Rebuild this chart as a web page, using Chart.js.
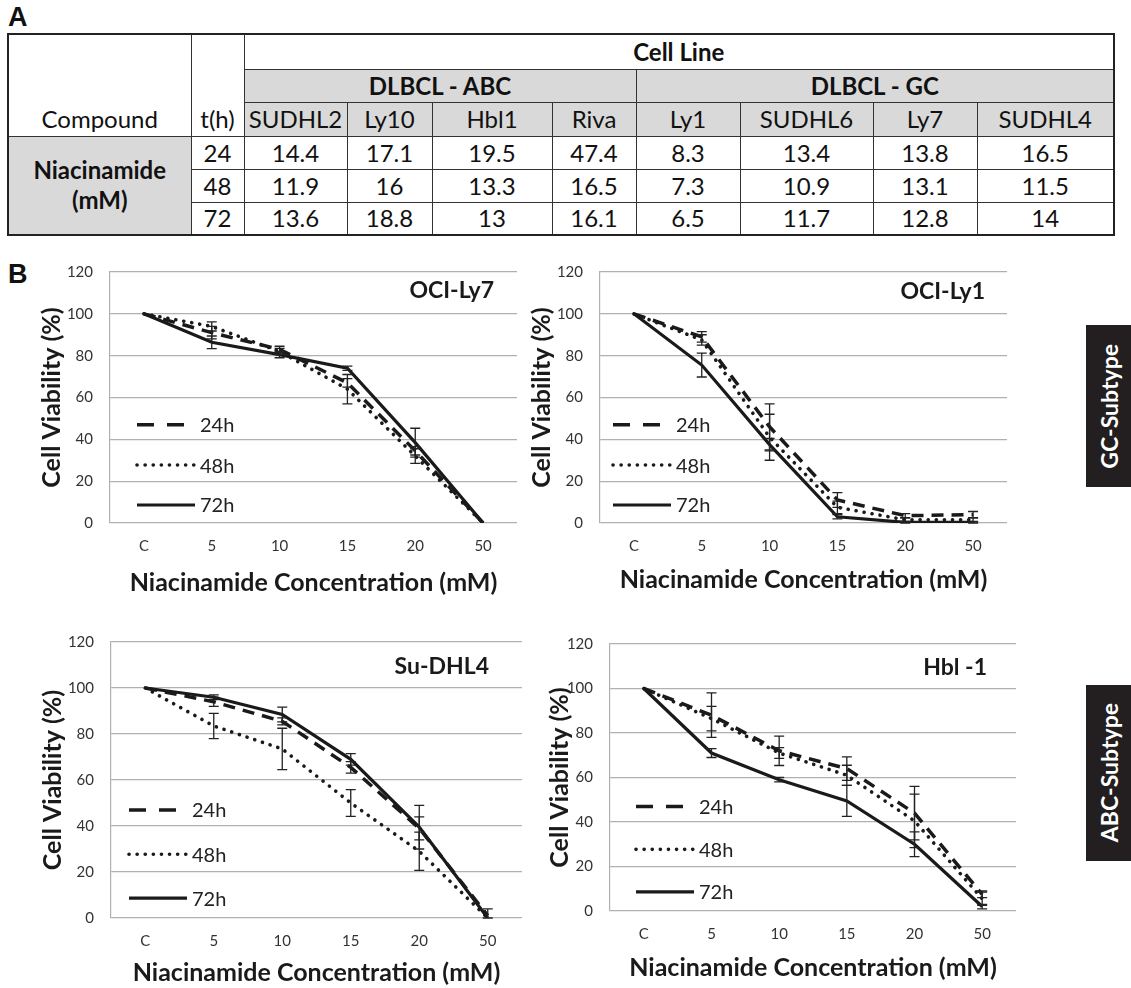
<!DOCTYPE html>
<html>
<head>
<meta charset="utf-8">
<script src="https://cdn.jsdelivr.net/npm/chart.js@4.4.1/dist/chart.umd.min.js"></script>
<style>
  html, body { margin: 0; padding: 0; background: #fff; }
  body { width: 1131px; height: 988px; position: relative; overflow: hidden; font-family: Lato, sans-serif; color: #111; }
  .letter { position: absolute; left: 8px; font: bold 27px "Liberation Sans", Arial, sans-serif; line-height: 1; }
  #ic50 { position: absolute; left: 7px; top: 33px; width: 1106px; border-collapse: collapse; table-layout: fixed; border: 2px solid #222; }
  #ic50 td { border: 1.5px solid #333; font-size: 24px; text-align: center; padding: 0; line-height: 1; }
  #ic50 .gray { background: #d9d9d9; }
  #ic50 .bold { font-weight: bold; }
  #ic50 .bottom { vertical-align: bottom; padding-bottom: 5px; }
  .panel { position: absolute; }
  .side { position: absolute; left: 1086px; width: 45px; background: #231f20; color: #fff; font: bold 23px Lato, sans-serif; display: flex; align-items: center; justify-content: center; }
  .side span { writing-mode: vertical-rl; transform: rotate(180deg); }
</style>
</head>
<body>
<div class="letter" style="top:4px">A</div>
<div class="letter" style="top:261px">B</div>
<table id="ic50"></table>

<div class="panel" style="left:0;top:255px"><canvas id="c1" width="530" height="345"></canvas></div>
<div class="panel" style="left:490px;top:255px"><canvas id="c2" width="530" height="345"></canvas></div>
<div class="panel" style="left:0;top:625px"><canvas id="c3" width="535" height="363"></canvas></div>
<div class="panel" style="left:500px;top:625px"><canvas id="c4" width="530" height="363"></canvas></div>

<div class="side" style="top:325px;height:162px"><span>GC-Subtype</span></div>
<div class="side" style="top:685px;height:176px"><span>ABC-Subtype</span></div>

<script>
// ---- table A: IC50 values (mM) ----
const cellLines = ['SUDHL2', 'Ly10', 'Hbl1', 'Riva', 'Ly1', 'SUDHL6', 'Ly7', 'SUDHL4'];
const subtypeGroups = ['DLBCL - ABC', 'DLBCL - GC'];
const hours = [24, 48, 72];
const ic50_24h = [14.4, 17.1, 19.5, 47.4, 8.3, 13.4, 13.8, 16.5];
const ic50_48h = [11.9, 16, 13.3, 16.5, 7.3, 10.9, 13.1, 11.5];
const ic50_72h = [13.6, 18.8, 13, 16.1, 6.5, 11.7, 12.8, 14];

// ---- panel B: viability curves ----
const concentrations = ['C', '5', '10', '15', '20', '50'];
const timeLabels = ['24h', '48h', '72h'];

const ly7_24h = [100, 91, 83, 67, 34.5, 0];
const ly7_48h = [100, 94, 82, 64, 32, 0];
const ly7_72h = [100, 86.4, 80.5, 74, 38.4, 0];
const ly7_24hErr = [0, 3, 1.5, 2, 2, 0];
const ly7_48hErr = [0, 2.2, 1.5, 7, 3.5, 0];
const ly7_72hErr = [0, 3, 1.5, 1, 6.9, 0];

const ly1_24h = [100, 89, 46, 11, 3.5, 4];
const ly1_48h = [100, 87.5, 41, 7.5, 1.5, 1.5];
const ly1_72h = [100, 75.5, 37.5, 3, 0.3, 0.3];
const ly1_24hErr = [0, 2.5, 11, 3.5, 1, 1.5];
const ly1_48hErr = [0, 2.5, 11, 3, 1, 1];
const ly1_72hErr = [0, 5.7, 3, 1, 0.5, 0.5];

const dhl4_24h = [100, 94, 85.5, 65.5, 39, 1];
const dhl4_48h = [100, 83.5, 73.5, 50, 29, 0];
const dhl4_72h = [100, 96, 88.5, 69, 39.5, 0];
const dhl4_24hErr = [0, 2, 1.5, 2.5, 5, 3];
const dhl4_48hErr = [0, 5.5, 9, 5.8, 8.3, 0];
const dhl4_72hErr = [0, 1, 3.2, 2.5, 9.5, 0];

const hbl1_24h = [100, 88, 72, 64, 44, 7.5];
const hbl1_48h = [100, 86.5, 71, 61, 40.5, 5.5];
const hbl1_72h = [100, 71, 59, 49.5, 30, 2];
const hbl1_24hErr = [0, 10, 6.6, 5.3, 12, 1.5];
const hbl1_48hErr = [0, 5.5, 2.4, 4.5, 12, 3];
const hbl1_72hErr = [0, 2, 1, 7, 5.6, 1];

// build the table
(function buildTable() {
  const t = document.getElementById('ic50');
  const colW = [183, 53, 103, 85, 120, 84, 104, 133, 104, 137];
  let html = '<colgroup>' + colW.map(w => `<col style="width:${w}px">`).join('') + '</colgroup>';
  html += '<tr style="height:35px"><td rowspan="3" class="bottom">Compound</td><td rowspan="3" class="bottom">t(h)</td>' +
    `<td colspan="${cellLines.length}" class="bold">Cell Line</td></tr>`;
  html += '<tr style="height:33px">' + subtypeGroups.map(g => `<td colspan="4" class="gray bold">${g}</td>`).join('') + '</tr>';
  html += '<tr style="height:34px">' + cellLines.map(c => `<td class="gray">${c}</td>`).join('') + '</tr>';
  const rows = [ic50_24h, ic50_48h, ic50_72h];
  rows.forEach((vals, i) => {
    html += '<tr style="height:33px">';
    if (i === 0) html += `<td rowspan="${rows.length}" class="gray bold" style="line-height:1.25">Niacinamide<br>(mM)</td>`;
    html += `<td>${hours[i]}</td>` + vals.map(v => `<td>${v}</td>`).join('') + '</tr>';
  });
  t.innerHTML = html;
})();

Chart.defaults.font.family = "Lato, 'Open Sans', sans-serif";
Chart.defaults.color = '#333';

const lineStyles = [
  { borderDash: [12, 8], borderWidth: 3.5, borderCapStyle: 'butt', legendDash: [17, 13] },
  { borderDash: [0.1, 8], borderWidth: 3.6, borderCapStyle: 'round', legendDash: [0.1, 8] },
  { borderDash: [], borderWidth: 3.2, borderCapStyle: 'butt', legendDash: [] },
];

const errorBars = {
  id: 'errorBars',
  afterDatasetsDraw(chart) {
    const { ctx, scales: { y } } = chart;
    ctx.save();
    ctx.strokeStyle = '#222';
    ctx.lineWidth = 1.3;
    ctx.setLineDash([]);
    chart.data.datasets.forEach((ds, i) => {
      const meta = chart.getDatasetMeta(i);
      (ds.errors || []).forEach((e, j) => {
        if (!e) return;
        const x = meta.data[j].x;
        const top = y.getPixelForValue(ds.data[j] + e);
        const bot = y.getPixelForValue(Math.max(ds.data[j] - e, 0));
        ctx.beginPath();
        ctx.moveTo(x, top); ctx.lineTo(x, bot);
        ctx.moveTo(x - 5, top); ctx.lineTo(x + 5, top);
        ctx.moveTo(x - 5, bot); ctx.lineTo(x + 5, bot);
        ctx.stroke();
      });
    });
    ctx.restore();
  }
};

// legend drawn inside the plot, at the left
const inlineLegend = {
  id: 'inlineLegend',
  afterDatasetsDraw(chart, args, opts) {
    const { ctx, chartArea, scales: { y } } = chart;
    ctx.save();
    chart.data.datasets.forEach((ds, i) => {
      const yy = y.getPixelForValue(opts.rows[i]);
      const x0 = chartArea.left + opts.x;
      ctx.strokeStyle = ds.borderColor;
      ctx.lineWidth = ds.borderWidth;
      ctx.lineCap = ds.borderCapStyle;
      ctx.setLineDash(ds.legendDash);
      ctx.beginPath();
      ctx.moveTo(x0, yy);
      ctx.lineTo(x0 + opts.length, yy);
      ctx.stroke();
      ctx.fillStyle = '#222';
      ctx.font = '20px Lato';
      ctx.textBaseline = 'middle';
      ctx.fillText(ds.label, x0 + opts.length + 5, yy + 1);
    });
    ctx.restore();
  }
};

const cornerTitle = {
  id: 'cornerTitle',
  afterDraw(chart, args, opts) {
    const { ctx, chartArea } = chart;
    ctx.save();
    ctx.font = 'bold 23px Lato';
    ctx.fillStyle = '#1a1a1a';
    ctx.textAlign = 'right';
    ctx.textBaseline = 'middle';
    ctx.fillText(opts.text, chartArea.right - opts.right, chartArea.top + opts.top);
    ctx.restore();
  }
};

function drawPanel(canvasId, name, series, errors, L) {
  const datasets = series.map((data, i) => ({
    label: timeLabels[i],
    data,
    errors: errors[i],
    borderColor: '#1a1a1a',
    ...lineStyles[i],
    pointRadius: 0,
    tension: 0,
    fill: false,
  }));
  return new Chart(document.getElementById(canvasId), {
    type: 'line',
    data: { labels: concentrations, datasets },
    options: {
      responsive: false,
      animation: false,
      devicePixelRatio: 1,
      layout: { padding: { left: 0, top: L.top, right: L.right, bottom: 0 } },
      plugins: {
        legend: { display: false },
        tooltip: { enabled: false },
        inlineLegend: { x: L.legendX, length: 58, rows: [47, 27.7, 8.6] },
        cornerTitle: { text: name, right: L.titleRight, top: L.titleTop },
      },
      scales: {
        x: {
          offset: true,
          grid: { display: false, drawTicks: false },
          border: { display: false },
          ticks: { padding: 14, font: { size: 15 }, color: '#333' },
          title: {
            display: true,
            text: 'Niacinamide Concentration (mM)',
            color: '#1a1a1a',
            font: { size: 25, weight: 'bold' },
            padding: { top: 0, bottom: L.xTitlePad },
          },
          afterFit: s => { s.height = L.xHeight; },
        },
        y: {
          min: 0,
          max: 120,
          ticks: { stepSize: 20, padding: 17, font: { size: 15 }, color: '#333' },
          grid: { color: '#b0b0b0', lineWidth: 1.2, drawTicks: false },
          border: { display: true, color: '#b0b0b0', width: 1.2 },
          title: {
            display: true,
            text: 'Cell Viability (%)',
            color: '#1a1a1a',
            font: { size: 25, weight: 'bold' },
            padding: { top: L.yTitleX - 15, bottom: 0 },
          },
          // fixed axis width; let layout.padding decide where the plot starts
          afterFit: s => { s.width = L.yWidth; s.paddingTop = 0; },
        },
      },
    },
    plugins: [errorBars, inlineLegend, cornerTitle],
  });
}

drawPanel('c1', 'OCI-Ly7', [ly7_24h, ly7_48h, ly7_72h], [ly7_24hErr, ly7_48hErr, ly7_72hErr],
  { top: 17, right: 13, yWidth: 110, xHeight: 77, xTitlePad: 2, yTitleX: 52, legendX: 27, titleRight: 23, titleTop: 19 });
drawPanel('c2', 'OCI-Ly1', [ly1_24h, ly1_48h, ly1_72h], [ly1_24hErr, ly1_48hErr, ly1_72hErr],
  { top: 17, right: 13, yWidth: 110, xHeight: 77, xTitlePad: 5, yTitleX: 52, legendX: 13, titleRight: 22, titleTop: 20 });
drawPanel('c3', 'Su-DHL4', [dhl4_24h, dhl4_48h, dhl4_72h], [dhl4_24hErr, dhl4_48hErr, dhl4_72hErr],
  { top: 17, right: 13, yWidth: 111, xHeight: 70, xTitlePad: 0, yTitleX: 53, legendX: 18, titleRight: 33, titleTop: 25 });
drawPanel('c4', 'Hbl -1', [hbl1_24h, hbl1_48h, hbl1_72h], [hbl1_24hErr, hbl1_48hErr, hbl1_72hErr],
  { top: 19, right: 14, yWidth: 110, xHeight: 77, xTitlePad: 5, yTitleX: 60, legendX: 26, titleRight: 29, titleTop: 24 });
</script>
</body>
</html>
